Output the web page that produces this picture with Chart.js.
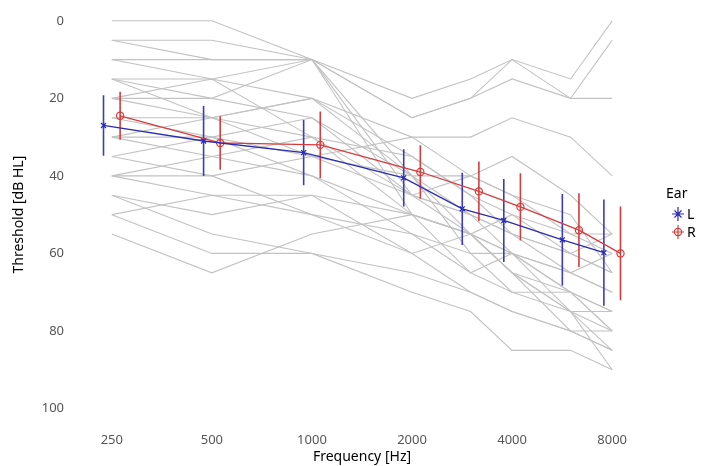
<!DOCTYPE html>
<html>
<head>
<meta charset="utf-8">
<script src="https://cdn.jsdelivr.net/npm/chart.js@4"></script>
<style>
  html, body { margin: 0; padding: 0; background: #fff; }
  #wrap { width: 702px; height: 466px; }
</style>
</head>
<body>
<div id="wrap"><canvas id="audiogram" width="702" height="466"></canvas></div>
<script>
// frequencies (Hz) and tick labels
const freqs = [250, 500, 1000, 2000, 3000, 4000, 6000, 8000];
const xTicks = [250, 500, 1000, 2000, 4000, 8000];
const yTicks = [0, 20, 40, 60, 80, 100];

// mean threshold per ear (dB HL) and standard deviation
const meanL = [27, 31, 34, 40.5, 48.5, 51.5, 56.5, 59.8];
const sdL   = [7.8, 9, 8.4, 7.4, 9.3, 10.7, 11.8, 13.7];
const meanR = [24.5, 31.5, 32, 39, 44, 48, 54, 60];
const sdR   = [6.2, 6.9, 8.6, 6.9, 7.7, 8.7, 9.5, 12.1];

// individual audiograms (dB HL at each of the freqs above)
const subj01 = [0, 0, 10, 20, 15, 10, 15, 0];
const subj02 = [5, 10, 10, 25, 20, 10, 20, 5];
const subj03 = [10, 15, 10, 25, 20, 15, 20, 20];
const subj04 = [5, 5, 10, 45, 50, 60, 70, 80];
const subj05 = [15, 20, 10, 50, 55, 65, 80, 85];
const subj06 = [10, 10, 10, 40, 60, 70, 75, 75];
const subj07 = [15, 15, 20, 30, 30, 25, 30, 40];
const subj08 = [20, 25, 20, 35, 45, 50, 55, 55];
const subj09 = [20, 20, 25, 40, 40, 45, 55, 60];
const subj10 = [25, 30, 25, 45, 50, 55, 60, 65];
const subj11 = [25, 25, 30, 35, 45, 55, 65, 70];
const subj12 = [30, 30, 35, 45, 55, 60, 65, 60];
const subj13 = [30, 35, 40, 50, 55, 50, 60, 65];
const subj14 = [35, 40, 35, 40, 50, 55, 60, 55];
const subj15 = [35, 30, 40, 55, 65, 70, 70, 80];
const subj16 = [40, 45, 45, 50, 55, 65, 75, 85];
const subj17 = [40, 40, 50, 60, 55, 60, 65, 70];
const subj18 = [45, 50, 45, 60, 70, 75, 80, 80];
const subj19 = [50, 45, 50, 55, 60, 60, 70, 75];
const subj20 = [50, 60, 60, 70, 75, 85, 85, 90];
const subj21 = [55, 65, 55, 50, 55, 65, 75, 90];
const subj22 = [45, 55, 60, 65, 70, 75, 80, 85];
const subj23 = [20, 15, 30, 45, 40, 35, 45, 55];
const subj24 = [15, 25, 35, 30, 40, 45, 50, 65];
const subj25 = [30, 25, 20, 40, 55, 65, 70, 75];
const subj26 = [40, 35, 30, 50, 65, 60, 75, 80];
const subjects = [subj01, subj02, subj03, subj04, subj05, subj06, subj07, subj08, subj09, subj10, subj11,
                  subj12, subj13, subj14, subj15, subj16, subj17, subj18, subj19, subj20, subj21, subj22,
                  subj23, subj24, subj25, subj26];

const BLUE = '#2b2bb3';
const RED = '#d63c3c';
const GREY = '#c2c2c2';
const DODGE = Math.pow(2, 0.083); // horizontal dodge, in octaves
const FONT = '"Noto Sans", "Open Sans", sans-serif';

const datasets = [];

// grey individual lines
subjects.forEach(s => {
    datasets.push({
        data: freqs.map((f, i) => ({ x: f, y: s[i] })),
        borderColor: GREY,
        borderWidth: 1.1,
        pointRadius: 0,
        order: 3
    });
});

// error bars (mean +/- sd)
function addBars(means, sds, color, shift) {
    freqs.forEach((f, i) => {
        datasets.push({
            data: [{ x: f * shift, y: means[i] - sds[i] }, { x: f * shift, y: means[i] + sds[i] }],
            borderColor: color,
            borderWidth: 1.6,
            pointRadius: 0,
            order: 2
        });
    });
}
addBars(meanL, sdL, '#3a3ac4', 1 / DODGE);
addBars(meanR, sdR, RED, DODGE);

// mean lines
datasets.push({
    label: 'L',
    data: freqs.map((f, i) => ({ x: f / DODGE, y: meanL[i] })),
    borderColor: BLUE,
    borderWidth: 1.3,
    pointStyle: 'crossRot',
    pointRadius: 3.5,
    pointBorderWidth: 1.3,
    pointBorderColor: BLUE,
    order: 1
});
datasets.push({
    label: 'R',
    data: freqs.map((f, i) => ({ x: f * DODGE, y: meanR[i] })),
    borderColor: RED,
    borderWidth: 1.3,
    pointStyle: 'circle',
    pointRadius: 3.6,
    pointBorderWidth: 1.2,
    pointBorderColor: RED,
    pointBackgroundColor: 'rgba(0,0,0,0)',
    order: 1
});

// legend "Ear" drawn at the right, like ggplot
const earLegend = {
    id: 'earLegend',
    afterDraw(chart) {
        const ctx = chart.ctx;
        ctx.save();
        ctx.fillStyle = '#000';
        ctx.font = '14px ' + FONT;
        ctx.textAlign = 'left';
        ctx.textBaseline = 'middle';
        ctx.fillText('Ear', 666, 194);
        const items = [['L', BLUE, 214], ['R', RED, 232]];
        items.forEach(([name, color, y]) => {
            const x = 678;
            ctx.strokeStyle = color;
            ctx.lineWidth = 1.2;
            ctx.beginPath();
            ctx.moveTo(x - 6, y); ctx.lineTo(x + 6, y);
            ctx.moveTo(x, y - 7); ctx.lineTo(x, y + 7);
            if (name === 'L') {
                ctx.moveTo(x - 3.5, y - 3.5); ctx.lineTo(x + 3.5, y + 3.5);
                ctx.moveTo(x - 3.5, y + 3.5); ctx.lineTo(x + 3.5, y - 3.5);
            } else {
                ctx.moveTo(x + 3.6, y);
                ctx.arc(x, y, 3.6, 0, Math.PI * 2);
            }
            ctx.stroke();
            ctx.fillStyle = '#000';
            ctx.fillText(name, x + 9, y + 1);
        });
        ctx.restore();
    }
};

new Chart(document.getElementById('audiogram'), {
    type: 'line',
    data: { datasets: datasets },
    options: {
        responsive: false,
        animation: false,
        layout: { padding: { top: 3, right: 56, left: 0, bottom: 0 } },
        plugins: { legend: { display: false }, tooltip: { enabled: false } },
        scales: {
            x: {
                type: 'logarithmic',
                min: 197.8,
                max: 10112,
                border: { display: false },
                grid: { display: false, drawTicks: false },
                afterBuildTicks: (scale) => { scale.ticks = xTicks.map(v => ({ value: v })); },
                afterFit: (scale) => { scale.height = 42; scale.paddingLeft = 0; scale.paddingRight = 0; },
                ticks: {
                    padding: 8,
                    color: '#555',
                    font: { family: FONT, size: 13 },
                    callback: (v) => String(v)
                },
                title: {
                    display: true,
                    text: 'Frequency [Hz]',
                    color: '#000',
                    font: { family: FONT, size: 14 },
                    padding: { top: 0, bottom: 1 }
                }
            },
            y: {
                type: 'linear',
                reverse: true,
                min: -4,
                max: 104,
                border: { display: false },
                grid: { display: false, drawTicks: false },
                afterBuildTicks: (scale) => { scale.ticks = yTicks.map(v => ({ value: v })); },
                afterFit: (scale) => { scale.width = 78; scale.paddingTop = 0; scale.paddingBottom = 0; },
                ticks: {
                    padding: 14,
                    color: '#555',
                    font: { family: FONT, size: 13 }
                },
                title: {
                    display: true,
                    text: 'Threshold [dB HL]',
                    color: '#000',
                    font: { family: FONT, size: 14 },
                    padding: { top: 11, bottom: 0 }
                }
            }
        }
    },
    plugins: [earLegend]
});
</script>
</body>
</html>
